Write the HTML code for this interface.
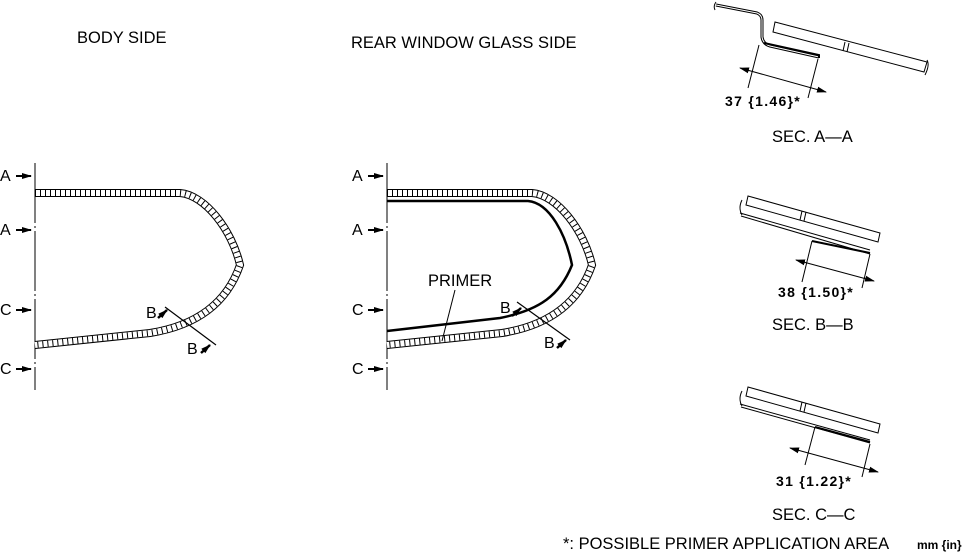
<!DOCTYPE html>
<html><head><meta charset="utf-8"><style>
body{margin:0;background:#fff;}
svg{display:block;font-family:"Liberation Sans",Arial,sans-serif;}
</style></head><body>
<svg width="974" height="552" viewBox="0 0 974 552" xmlns="http://www.w3.org/2000/svg">
<defs>
<marker id="ar" markerWidth="10" markerHeight="8" refX="9" refY="4" orient="auto-start-reverse" markerUnits="userSpaceOnUse"><path d="M0,1 L10,4 L0,7 Z" fill="#000"/></marker>
</defs>
<g font-size="16.5" fill="#000">
<text x="77" y="43">BODY SIDE</text>
<text x="351" y="48">REAR WINDOW GLASS SIDE</text>
<text x="428" y="286">PRIMER</text>
<text x="563" y="549">*: POSSIBLE PRIMER APPLICATION AREA</text>
<text x="772" y="142">SEC. A—A</text>
<text x="772" y="330">SEC. B—B</text>
<text x="772" y="520">SEC. C—C</text>
</g>
<text x="917" y="549" font-size="12" font-weight="bold">mm {in}</text>
<g font-size="14" font-weight="bold" letter-spacing="1.3">
<text x="725" y="106">37 {1.46}*</text>
<text x="778" y="297">38 {1.50}*</text>
<text x="776" y="486">31 {1.22}*</text>
</g>
<!-- left diagrams -->
<g>
<line x1="35" y1="163" x2="35" y2="390" stroke="#000" stroke-width="1" stroke-dasharray="60 3 2 3"/>
<g font-size="16"><text x="0" y="181">A</text><text x="0" y="235">A</text><text x="0" y="315">C</text><text x="0" y="374">C</text></g>
<g stroke="#000" stroke-width="2" marker-end="url(#ar)"><line x1="16" y1="176" x2="31" y2="176"/><line x1="16" y1="230" x2="31" y2="230"/><line x1="16" y1="310" x2="31" y2="310"/><line x1="16" y1="369" x2="31" y2="369"/></g>
<path d="M35,193 L180,193 C205,195 232,230 240,265 C228,300 200,325 150,333 L35,345" fill="none" stroke="#000" stroke-width="8"/>
<path d="M35,193 L180,193 C205,195 232,230 240,265 C228,300 200,325 150,333 L35,345" fill="none" stroke="#fff" stroke-width="6"/>
<path d="M35,193 L180,193 C205,195 232,230 240,265 C228,300 200,325 150,333 L35,345" fill="none" stroke="#000" stroke-width="6" stroke-dasharray="1 4"/>
<line x1="165" y1="307" x2="216" y2="345" stroke="#000" stroke-width="1.2"/>
<text x="146" y="318" font-size="16">B</text><text x="187" y="354" font-size="16">B</text>
<g stroke="#000" stroke-width="2.5" marker-end="url(#ar)"><line x1="158" y1="318" x2="167" y2="310"/><line x1="201" y1="353" x2="210" y2="345"/></g>
</g>
<!-- middle -->
<g>
<line x1="387" y1="163" x2="387" y2="390" stroke="#000" stroke-width="1" stroke-dasharray="60 3 2 3"/>
<g font-size="16"><text x="352" y="181">A</text><text x="352" y="235">A</text><text x="352" y="315">C</text><text x="352" y="374">C</text></g>
<g stroke="#000" stroke-width="2" marker-end="url(#ar)"><line x1="368" y1="176" x2="383" y2="176"/><line x1="368" y1="230" x2="383" y2="230"/><line x1="368" y1="310" x2="383" y2="310"/><line x1="368" y1="369" x2="383" y2="369"/></g>
<path d="M387,193 L532,193 C557,195 584,230 592,265 C580,300 552,325 502,333 L387,345" fill="none" stroke="#000" stroke-width="8"/>
<path d="M387,193 L532,193 C557,195 584,230 592,265 C580,300 552,325 502,333 L387,345" fill="none" stroke="#fff" stroke-width="6"/>
<path d="M387,193 L532,193 C557,195 584,230 592,265 C580,300 552,325 502,333 L387,345" fill="none" stroke="#000" stroke-width="6" stroke-dasharray="1 4"/>
<path d="M387,201 L528,201 C550,203 566,235 572,265 C560,295 540,310 500,318 L387,331" fill="none" stroke="#000" stroke-width="2.5"/>
<line x1="455" y1="290" x2="442" y2="341" stroke="#000" stroke-width="1"/>
<line x1="517" y1="302" x2="570" y2="340" stroke="#000" stroke-width="1.2"/>
<text x="500" y="313" font-size="16">B</text><text x="544" y="348" font-size="16">B</text>
<g stroke="#000" stroke-width="2.5" marker-end="url(#ar)"><line x1="512" y1="316" x2="521" y2="308"/><line x1="557" y1="348" x2="566" y2="340"/></g>
</g>
<!-- SEC A-A -->
<g fill="none" stroke="#000" stroke-width="1">
<path d="M716,5 L757,13 Q762,15 762,20 L762,37 Q763,44 770,46 L819,57" stroke-width="3"/>
<path d="M716,5 L757,13 Q762,15 762,20 L762,37 Q763,44 770,46 L819,57" stroke="#fff" stroke-width="1"/>
<path d="M764,43 L819,55 L819,58" stroke-width="2"/>
<path d="M716,2 Q713,6 715,10"/>
<polygon points="775,22 927,62 924,72 773,32"/>
<line x1="845" y1="42" x2="843" y2="51"/><line x1="849" y1="43" x2="847" y2="52"/>
<path d="M927,60 Q930,65 925,75"/>
<line x1="759" y1="45" x2="748" y2="88"/><line x1="818" y1="59" x2="808" y2="98"/>
<line x1="740" y1="68" x2="826" y2="92" marker-start="url(#ar)" marker-end="url(#ar)"/>
</g>
<!-- SEC B-B -->
<g fill="none" stroke="#000" stroke-width="1">
<polygon points="748,196 880,233 878,242 746,205"/>
<line x1="802" y1="211" x2="800" y2="220"/><line x1="806" y1="212" x2="804" y2="221"/>
<path d="M742,200 Q738,208 742,215"/>
<line x1="740" y1="213" x2="870" y2="250"/>
<line x1="812" y1="241" x2="870" y2="253" stroke-width="2"/>
<line x1="741" y1="216" x2="870" y2="254"/>
<line x1="812" y1="241" x2="802" y2="282"/><line x1="870" y1="254" x2="862" y2="288"/>
<line x1="796" y1="260" x2="874" y2="281" marker-start="url(#ar)" marker-end="url(#ar)"/>
</g>
<!-- SEC C-C -->
<g fill="none" stroke="#000" stroke-width="1">
<polygon points="748,387 880,424 878,433 746,396"/>
<line x1="802" y1="402" x2="800" y2="411"/><line x1="806" y1="403" x2="804" y2="412"/>
<path d="M742,391 Q738,399 742,406"/>
<line x1="740" y1="404" x2="870" y2="440"/>
<line x1="741" y1="407" x2="870" y2="443"/>
<line x1="815" y1="427" x2="870" y2="442" stroke-width="2"/>
<line x1="815" y1="427" x2="805" y2="465"/><line x1="870" y1="444" x2="862" y2="477"/>
<line x1="790" y1="448" x2="878" y2="472" marker-start="url(#ar)" marker-end="url(#ar)"/>
</g>
</svg>
</body></html>
